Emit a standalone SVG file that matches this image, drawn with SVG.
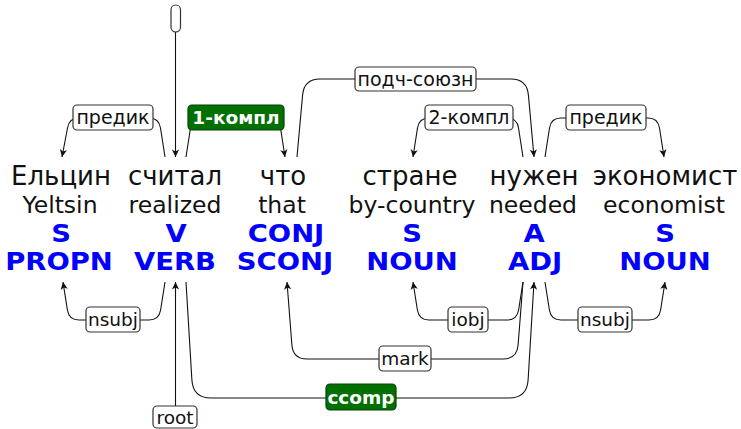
<svg xmlns="http://www.w3.org/2000/svg" width="741" height="429" viewBox="0 0 741 429">
<defs>
<marker id="arr" markerUnits="userSpaceOnUse" markerWidth="10" markerHeight="10" viewBox="-8 -5 9 10" refX="0" refY="0" orient="auto">
<path d="M0,0 L-7.5,-3.6 L-5.5,0 L-7.5,3.6 Z" fill="#111"/>
</marker>
</defs>
<style>
.ru{font-family:"DejaVu Sans",sans-serif;font-size:26px;fill:#111;text-anchor:middle}
.en{font-family:"DejaVu Sans",sans-serif;font-size:23.5px;fill:#111;text-anchor:middle}
.pos{font-family:"DejaVu Sans",sans-serif;font-size:24.5px;font-weight:bold;fill:#0000ff;text-anchor:middle}
.edge{fill:none;stroke:#111;stroke-width:1.1}
.arr{marker-end:url(#arr)}
.lb{fill:#fff;stroke:#333;stroke-width:1.2}
.lbg{fill:#007000;stroke:#004400;stroke-width:1.2}
.lt{font-family:"DejaVu Sans",sans-serif;font-size:18.5px;fill:#111;text-anchor:middle}
.ltc{font-family:"DejaVu Sans",sans-serif;font-size:19px;fill:#111;text-anchor:middle}
.ltg{font-family:"DejaVu Sans",sans-serif;font-size:18.5px;font-weight:bold;fill:#fff;text-anchor:middle}
</style>

<g id="connectors">
<!-- top -->
<path class="edge arr" d="M175.5,32 L175.5,157"/>
<path class="edge arr" d="M165,157 L160.5,128 Q159,118 149,118 L79,118 Q69,118 67.5,128 L62,157"/>
<path class="edge arr" d="M186,157 L190.5,128 Q192,118 202,118 L269,118 Q279,118 280.5,128 L285,157"/>
<path class="edge arr" d="M297,157 L302.6,95 Q304,79 320,79 L511,79 Q527,79 528.4,95 L534,157"/>
<path class="edge arr" d="M523,157 L518.5,128 Q517,118 507,118 L429,118 Q419,118 417.5,128 L413,157"/>
<path class="edge arr" d="M545,157 L549.5,128 Q551,118 561,118 L648,118 Q658,118 659.5,128 L664,157"/>
<!-- bottom -->
<path class="edge arr" d="M165,282 L160.6,310 Q159,320 149,320 L79,320 Q69,320 67.4,310 L63,282"/>
<path class="edge arr" d="M175.5,406 L175.5,282"/>
<path class="edge arr" d="M186,282 L191.9,380 Q193,398 211,398 L509,398 Q527,398 528.1,380 L534,282"/>
<path class="edge arr" d="M523,282 L518.1,345 Q517,359 503,359 L307,359 Q293,359 291.9,345 L287,282"/>
<path class="edge arr" d="M523,282 L518.6,310 Q517,320 507,320 L429,320 Q419,320 417.4,310 L413,282"/>
<path class="edge arr" d="M545,282 L549.4,310 Q551,320 561,320 L649,320 Q659,320 660.6,310 L665,282"/>

<!-- labels -->
<rect class="lb" x="171" y="5" width="9.5" height="27" rx="4.7"/>
<rect class="lb" x="73" y="105" width="80" height="25" rx="4"/>
<text class="ltc" x="113" y="124">предик</text>
<rect class="lbg" x="188" y="105" width="96" height="25" rx="4"/>
<text class="ltg" x="236" y="124">1-компл</text>
<rect class="lb" x="355" y="67" width="121" height="24" rx="4"/>
<text class="ltc" x="415.5" y="85.5">подч-союзн</text>
<rect class="lb" x="425" y="105" width="88" height="25" rx="4"/>
<text class="ltc" x="469" y="124">2-компл</text>
<rect class="lb" x="566" y="105" width="80" height="25" rx="4"/>
<text class="ltc" x="606" y="124">предик</text>
<rect class="lb" x="86" y="307" width="54" height="25" rx="4"/>
<text class="lt" x="113" y="326">nsubj</text>
<rect class="lb" x="448" y="307" width="40" height="25" rx="4"/>
<text class="lt" x="468" y="326">iobj</text>
<rect class="lb" x="578" y="307" width="54" height="25" rx="4"/>
<text class="lt" x="605" y="326">nsubj</text>
<rect class="lb" x="379" y="346" width="52" height="25" rx="4"/>
<text class="lt" x="405" y="365">mark</text>
<rect class="lbg" x="326" y="384" width="70" height="26" rx="4"/>
<text class="ltg" x="361" y="403.5">ccomp</text>
<rect class="lb" x="153" y="406" width="44" height="22" rx="4"/>
<text class="lt" x="175" y="423.5">root</text>
</g>

<g id="w1">
<text class="ru" x="61" y="185">Ельцин</text>
<text class="en" x="60" y="213">Yeltsin</text>
<text class="pos" transform="translate(61,242) scale(1.12,1)">S</text>
<text class="pos" transform="translate(59,270) scale(1.12,1)">PROPN</text>
</g>
<g id="w2">
<text class="ru" x="175" y="185">считал</text>
<text class="en" x="175" y="213">realized</text>
<text class="pos" transform="translate(176,242) scale(1.12,1)">V</text>
<text class="pos" transform="translate(175,270) scale(1.12,1)">VERB</text>
</g>
<g id="w3">
<text class="ru" x="283" y="185">что</text>
<text class="en" x="282" y="213">that</text>
<text class="pos" transform="translate(286,242) scale(1.12,1)">CONJ</text>
<text class="pos" transform="translate(285,270) scale(1.12,1)">SCONJ</text>
</g>
<g id="w4">
<text class="ru" x="410" y="185">стране</text>
<text class="en" x="412" y="213">by-country</text>
<text class="pos" transform="translate(412,242) scale(1.12,1)">S</text>
<text class="pos" transform="translate(412,270) scale(1.12,1)">NOUN</text>
</g>
<g id="w5">
<text class="ru" x="534" y="185">нужен</text>
<text class="en" x="533" y="213">needed</text>
<text class="pos" transform="translate(534,242) scale(1.12,1)">A</text>
<text class="pos" transform="translate(535,270) scale(1.12,1)">ADJ</text>
</g>
<g id="w6">
<text class="ru" x="665" y="185">экономист</text>
<text class="en" x="664" y="213">economist</text>
<text class="pos" transform="translate(665,242) scale(1.12,1)">S</text>
<text class="pos" transform="translate(665,270) scale(1.12,1)">NOUN</text>
</g>
</svg>
